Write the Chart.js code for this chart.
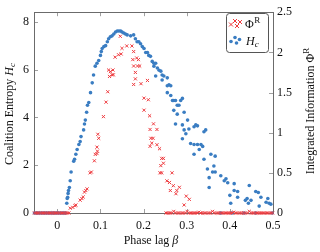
<!DOCTYPE html>
<html lang="en">
<head>
<meta charset="UTF-8">
<title>Coalition entropy and integrated information vs phase lag</title>
<script src="https://cdn.jsdelivr.net/npm/chart.js"></script>
<style>
  html, body { margin: 0; padding: 0; background: #ffffff; }
  #wrap { width: 320px; height: 252px; }
</style>
</head>
<body>
<div id="wrap"><canvas id="chart" width="320" height="252"></canvas></div>
<script>
// H_c (left axis)
const hcBeta = [
  -0.053, -0.049, -0.045, -0.041, -0.037, -0.033, -0.029, -0.025, -0.021, -0.017,
  -0.013, -0.009, -0.005, -0.001, 0.003, 0.007, 0.011, 0.015, 0.019,
  0.022, 0.023, 0.024, 0.025, 0.026, 0.028, 0.030, 0.032, 0.038, 0.040,
  0.043, 0.046, 0.050, 0.053, 0.055, 0.061, 0.063, 0.065, 0.068, 0.070,
  0.073, 0.077, 0.081, 0.084, 0.088, 0.092, 0.096, 0.100, 0.102, 0.104,
  0.108, 0.112, 0.116, 0.119, 0.123, 0.127, 0.131, 0.135, 0.139, 0.143,
  0.147, 0.150, 0.154, 0.158, 0.162, 0.170, 0.177, 0.181, 0.185, 0.189,
  0.193, 0.197, 0.201, 0.205, 0.209, 0.212, 0.216, 0.220, 0.224, 0.228,
  0.224, 0.228, 0.232, 0.236, 0.240, 0.243, 0.247, 0.243, 0.255, 0.259,
  0.255, 0.263, 0.255, 0.263, 0.267, 0.270, 0.274, 0.286, 0.290, 0.278,
  0.270, 0.282, 0.278, 0.294, 0.302, 0.274, 0.290, 0.305, 0.317, 0.321,
  0.325, 0.294, 0.298, 0.290, 0.340, 0.344, 0.309, 0.317, 0.325, 0.333,
  0.329, 0.337, 0.317, 0.340, 0.348, 0.352, 0.352, 0.356, 0.366, 0.363,
  0.360, 0.366, 0.379, 0.387, 0.391, 0.395, 0.400, 0.402, 0.410, 0.410,
  0.418, 0.418, 0.445, 0.436, 0.440, 0.443, 0.449, 0.460, 0.466, 0.468,
  0.472, 0.484, 0.488, 0.491, 0.495,
  0.379, 0.405, 0.433, 0.460, 0.498
];
const hcValue = [
  0, 0, 0, 0, 0, 0, 0, 0, 0, 0,
  0, 0, 0, 0, 0, 0, 0, 0, 0,
  0.41, 0.61, 0.66, 0.82, 0.94, 1.07, 1.35, 1.72, 2.17, 2.25,
  2.46, 2.66, 2.87, 2.99, 3.20, 3.48, 3.73, 3.89, 4.22, 4.51,
  4.63, 5.04, 5.45, 5.78, 6.15, 6.27, 6.39, 6.60, 6.76, 6.89,
  6.97, 7.01, 7.17, 7.30, 7.38, 7.42, 7.50, 7.58, 7.62, 7.62,
  7.62, 7.58, 7.54, 7.50, 7.46, 7.42, 7.46, 7.30, 7.17, 7.17,
  7.09, 6.97, 6.89, 6.72, 6.72, 6.60, 6.56, 6.35, 6.27, 6.27,
  6.15, 5.74, 6.07, 5.98, 5.94, 5.78, 5.74, 5.57, 5.66, 5.37,
  5.33, 5.33, 5.04, 4.92, 4.71, 4.71, 4.71, 4.71, 4.80, 4.51,
  4.30, 4.51, 4.14, 4.22, 3.89, 3.73, 3.69, 3.52, 3.61, 3.69,
  3.65, 3.48, 3.32, 3.11, 3.40, 3.48, 2.91, 2.87, 2.87, 2.87,
  2.66, 2.79, 2.46, 2.25, 1.84, 1.48, 1.07, 2.46, 2.38, 1.97,
  1.72, 1.72, 1.56, 1.35, 1.43, 1.27, 0.74, 0.41, 1.23, 0.94,
  0.90, 0.66, 1.15, 0.53, 0.61, 0.41, 0.53, 0.90, 0.86, 0.29,
  0.66, 0.45, 0.61, 0.41, 0.37,
  0, 0, 0, 0, 0
];

// Phi^R (right axis)
const phiBeta = [
  -0.053, -0.049, -0.045, -0.041, -0.037, -0.033, -0.029, -0.025, -0.021, -0.017,
  -0.013, -0.009, -0.005, -0.001, 0.003, 0.007, 0.011, 0.015, 0.019, 0.023, 0.027,
  0.030, 0.036, 0.041, 0.043, 0.053, 0.057, 0.060, 0.063, 0.066, 0.069,
  0.076, 0.079, 0.086, 0.088, 0.092, 0.093, 0.092, 0.096, 0.094, 0.107,
  0.113, 0.117, 0.119, 0.121, 0.123, 0.127, 0.129, 0.130,
  0.134, 0.142, 0.146, 0.148, 0.150, 0.161, 0.173, 0.175, 0.177, 0.177,
  0.177, 0.181, 0.181, 0.184, 0.186, 0.188, 0.191, 0.194, 0.201, 0.201,
  0.209, 0.211, 0.214, 0.215, 0.215, 0.217, 0.219, 0.222, 0.223, 0.231,
  0.231, 0.237, 0.238, 0.240, 0.242, 0.242, 0.246, 0.246, 0.254, 0.260,
  0.262, 0.266, 0.269, 0.275, 0.277, 0.283, 0.294, 0.299, 0.306,
  0.252, 0.256, 0.261, 0.265, 0.270, 0.274, 0.279, 0.283, 0.288, 0.292,
  0.297, 0.301, 0.306, 0.310, 0.315, 0.319, 0.324, 0.328, 0.333, 0.337,
  0.342, 0.346, 0.351, 0.355, 0.360, 0.364, 0.369, 0.373, 0.378, 0.382,
  0.387, 0.391, 0.396, 0.400, 0.405, 0.409, 0.414, 0.418, 0.423, 0.427,
  0.432, 0.436, 0.441, 0.445, 0.450, 0.454, 0.459, 0.463, 0.468, 0.472,
  0.477, 0.481, 0.486, 0.490, 0.495, 0.499
];
const phiValue = [
  0, 0, 0, 0, 0, 0, 0, 0, 0, 0,
  0, 0, 0, 0, 0, 0, 0, 0, 0, 0, 0,
  0.06, 0.07, 0.09, 0.10, 0.16, 0.18, 0.20, 0.26, 0.28, 0.30,
  0.50, 0.51, 0.65, 0.73, 0.74, 0.77, 0.82, 0.93, 0.98, 1.20,
  1.38, 1.51, 1.78, 1.70, 1.76, 1.72, 1.78, 1.72,
  1.94, 1.97, 2.20, 1.98, 2.05, 2.08, 2.08, 1.91, 2.01, 1.83,
  1.60, 1.75, 1.67, 1.93, 1.83, 1.91, 1.83, 1.61, 1.43, 1.28,
  1.65, 1.41, 1.21, 1.04, 0.83, 0.93, 0.87, 0.93, 1.11, 1.04,
  0.85, 0.80, 0.50, 0.59, 0.50, 0.68, 0.68, 0.62, 0.40, 0.38,
  0.28, 0.50, 0.34, 0.24, 0.28, 0.32, 0.10, 0.21, 0.17,
  0, 0, 0, 0, 0.02, 0, 0, 0, 0, 0,
  0, 0.02, 0, 0, 0, 0, 0, 0.01, 0, 0,
  0, 0, 0, 0, 0.02, 0, 0, 0, 0, 0,
  0, 0, 0, 0, 0, 0.01, 0, 0, 0, 0,
  0, 0, 0, 0.02, 0, 0, 0, 0, 0, 0,
  0, 0, 0, 0, 0, 0
];

const xTicks = [0, 0.1, 0.2, 0.3, 0.4, 0.5];
const leftTicks = [0, 2, 4, 6, 8];
const rightTicks = [0, 0.5, 1, 1.5, 2, 2.5];

const RED = '#ee3b3f';
const BLUE = '#3a7dc2';
const AXIS = '#6b6b6b';
const SERIF = '"Liberation Serif", "DejaVu Serif", serif';

function toPoints(xs, ys) {
  return xs.map((x, i) => ({ x: x, y: ys[i] }));
}

function drawRuns(ctx, runs, cx, cy, angle) {
  ctx.save();
  ctx.translate(cx, cy);
  ctx.rotate(angle);
  ctx.fillStyle = '#111';
  ctx.textAlign = 'left';
  ctx.textBaseline = 'alphabetic';
  let total = 0;
  runs.forEach(r => { ctx.font = r.font; r.w = ctx.measureText(r.text).width; total += r.w; });
  let x = -total / 2;
  runs.forEach(r => { ctx.font = r.font; ctx.fillText(r.text, x, r.dy || 0); x += r.w; });
  ctx.restore();
}

function drawMark(ctx, style, x, y) {
  if (style === 'x') {
    const s = 2;
    ctx.strokeStyle = RED;
    ctx.lineWidth = 1;
    ctx.beginPath();
    ctx.moveTo(x - s, y - s); ctx.lineTo(x + s, y + s);
    ctx.moveTo(x - s, y + s); ctx.lineTo(x + s, y - s);
    ctx.stroke();
  } else {
    ctx.fillStyle = BLUE;
    ctx.beginPath();
    ctx.arc(x, y, 1.8, 0, Math.PI * 2);
    ctx.fill();
  }
}

// frame with inward ticks (pgfplots look)
const framePlugin = {
  id: 'frame',
  beforeDatasetsDraw(chart) {
    const { ctx, chartArea: a, scales } = chart;
    ctx.save();
    ctx.strokeStyle = '#a0a0a0';
    ctx.lineWidth = 1;
    ctx.beginPath();
    xTicks.forEach(v => {
      const px = Math.round(scales.x.getPixelForValue(v)) + 0.5;
      ctx.moveTo(px, a.bottom); ctx.lineTo(px, a.bottom - 4);
      ctx.moveTo(px, a.top); ctx.lineTo(px, a.top + 4);
    });
    leftTicks.forEach(v => {
      const py = Math.round(scales.y.getPixelForValue(v)) + 0.5;
      ctx.moveTo(a.left, py); ctx.lineTo(a.left + 4, py);
    });
    rightTicks.forEach(v => {
      const py = Math.round(scales.y2.getPixelForValue(v)) + 0.5;
      ctx.moveTo(a.right, py); ctx.lineTo(a.right - 4, py);
    });
    ctx.stroke();
    ctx.strokeStyle = AXIS;
    ctx.strokeRect(Math.round(a.left) + 0.5, Math.round(a.top) + 0.5,
      Math.round(a.right - a.left), Math.round(a.bottom - a.top));
    ctx.restore();
  },
  afterDraw(chart) {
    const { ctx } = chart;
    const f = '12px ' + SERIF;
    const fi = 'italic 12px ' + SERIF;
    const fs = 'italic 9px ' + SERIF;
    const fsu = '9px ' + SERIF;
    drawRuns(ctx, [
      { text: 'Coalition Entropy ', font: f },
      { text: 'H', font: fi },
      { text: 'c', font: fs, dy: 2 }
    ], 13, 114, -Math.PI / 2);
    drawRuns(ctx, [
      { text: 'Integrated Information \u03A6', font: f },
      { text: 'R', font: fsu, dy: -5 }
    ], 314, 111, -Math.PI / 2);
    drawRuns(ctx, [
      { text: 'Phase lag ', font: f },
      { text: '\u03B2', font: fi }
    ], 151, 244, 0);

    // legend
    ctx.save();
    const lx = 226, ly = 13, lw = 42, lh = 39, r = 3;
    ctx.fillStyle = '#fff';
    ctx.strokeStyle = '#555';
    ctx.lineWidth = 1;
    ctx.beginPath();
    ctx.roundRect(lx + 0.5, ly + 0.5, lw, lh, r);
    ctx.fill();
    ctx.stroke();
    [[231, 24.5], [235, 21], [237, 26], [240, 22]].forEach(p => drawMark(ctx, 'x', p[0], p[1]));
    [[231, 41.5], [235, 37.5], [236.5, 43], [239.5, 39.5]].forEach(p => drawMark(ctx, 'o', p[0], p[1]));
    ctx.restore();
    ctx.save();
    ctx.fillStyle = '#111';
    ctx.textBaseline = 'alphabetic';
    ctx.font = f;
    ctx.fillText('\u03A6', 245, 28);
    const w = ctx.measureText('\u03A6').width;
    ctx.font = fsu;
    ctx.fillText('R', 245 + w + 0.5, 23);
    ctx.font = fi;
    ctx.fillText('H', 246, 45);
    const wh = ctx.measureText('H').width;
    ctx.font = fs;
    ctx.fillText('c', 246 + wh, 47);
    ctx.restore();
  }
};

const tickFont = { family: SERIF, size: 12 };

new Chart(document.getElementById('chart'), {
  type: 'scatter',
  data: {
    datasets: [
      {
        label: '\u03A6R',
        data: toPoints(phiBeta, phiValue),
        yAxisID: 'y2',
        pointStyle: 'crossRot',
        pointRadius: 2.2,
        borderColor: RED,
        borderWidth: 1,
        backgroundColor: RED,
        clip: false
      },
      {
        label: 'Hc',
        data: toPoints(hcBeta, hcValue),
        yAxisID: 'y',
        pointStyle: 'circle',
        pointRadius: 1.8,
        borderWidth: 0,
        backgroundColor: BLUE,
        clip: false
      }
    ]
  },
  options: {
    responsive: false,
    animation: false,
    devicePixelRatio: 1,
    layout: { padding: { top: 8, left: 0, right: 0, bottom: 0 } },
    plugins: { legend: { display: false }, tooltip: { enabled: false } },
    scales: {
      x: {
        type: 'linear',
        min: -0.054,
        max: 0.5,
        grid: { display: false, drawTicks: false },
        border: { display: false },
        afterBuildTicks: s => { s.ticks = xTicks.map(v => ({ value: v })); },
        afterFit: s => { s.height = 39; },
        ticks: { font: tickFont, color: '#111', padding: 6, maxRotation: 0,
          callback: v => String(v) }
      },
      y: {
        position: 'left',
        min: 0,
        max: 8.41,
        grid: { display: false, drawTicks: false },
        border: { display: false },
        afterBuildTicks: s => { s.ticks = leftTicks.map(v => ({ value: v })); },
        afterFit: s => { s.width = 34; },
        ticks: { font: tickFont, color: '#111', padding: 5 }
      },
      y2: {
        position: 'right',
        min: 0,
        max: 2.5,
        grid: { display: false, drawTicks: false },
        border: { display: false },
        afterBuildTicks: s => { s.ticks = rightTicks.map(v => ({ value: v })); },
        afterFit: s => { s.width = 47; },
        ticks: { font: tickFont, color: '#111', padding: 4, callback: v => String(v) }
      }
    }
  },
  plugins: [framePlugin]
});
</script>
</body>
</html>
